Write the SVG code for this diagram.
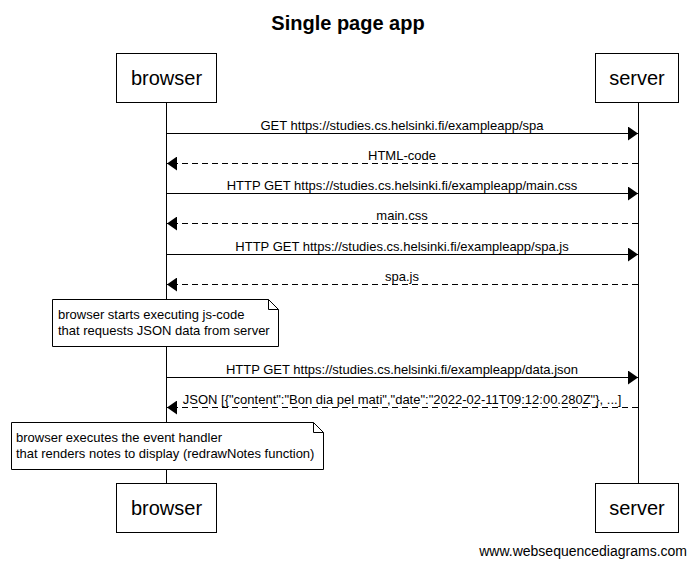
<svg xmlns="http://www.w3.org/2000/svg" width="696" height="566" viewBox="0 0 696 566">
<defs>
<marker id="ah" viewBox="0 0 10 14" refX="10" refY="7" markerWidth="10" markerHeight="14" markerUnits="userSpaceOnUse" orient="auto">
<path d="M0,0 L10,7 L0,14 Z" fill="#000"/>
</marker>
</defs>
<style>
text{font-family:"Liberation Sans",Arial,sans-serif;fill:#000}
.box{fill:#fff;stroke:#000;stroke-width:1}
.pt{font-size:20px;text-anchor:middle}
.life{stroke:#000;stroke-width:1}
.msg{stroke:#000;stroke-width:1;fill:none;marker-end:url(#ah)}
.dash{stroke-dasharray:6,4}
.ml{font-size:13px;text-anchor:middle}
.nt{font-size:13px}
.note{fill:#fff;stroke:#000;stroke-width:1}
</style>
<rect width="696" height="566" fill="#fff"/>
<text x="348" y="30" style="font-size:20px;font-weight:bold" text-anchor="middle">Single page app</text>
<g id="lifelines">
<line class="life" x1="166.5" y1="102" x2="166.5" y2="483"/>
<line class="life" x1="638.5" y1="102" x2="638.5" y2="483"/>
</g>
<g id="browser-top"><rect class="box" x="116.5" y="53.5" width="100" height="49"/><text class="pt" x="166.5" y="85">browser</text></g>
<g id="server-top"><rect class="box" x="595.5" y="53.5" width="83" height="49"/><text class="pt" x="637" y="85">server</text></g>
<g id="browser-bottom"><rect class="box" x="116.5" y="483.5" width="100" height="49"/><text class="pt" x="166.5" y="515">browser</text></g>
<g id="server-bottom"><rect class="box" x="595.5" y="483.5" width="83" height="49"/><text class="pt" x="637" y="515">server</text></g>
<g id="connectors">
<line class="msg" x1="166.5" y1="133.5" x2="638" y2="133.5"/>
<line class="msg dash" x1="638" y1="163.5" x2="167" y2="163.5"/>
<line class="msg" x1="166.5" y1="193.5" x2="638" y2="193.5"/>
<line class="msg dash" x1="638" y1="223.5" x2="167" y2="223.5"/>
<line class="msg" x1="166.5" y1="254.5" x2="638" y2="254.5"/>
<line class="msg dash" x1="638" y1="284.5" x2="167" y2="284.5"/>
<line class="msg" x1="166.5" y1="377.5" x2="638" y2="377.5"/>
<line class="msg dash" x1="638" y1="407.5" x2="167" y2="407.5"/>
</g>
<g id="labels">
<text class="ml" x="402" y="129.5">GET https://studies.cs.helsinki.fi/exampleapp/spa</text>
<text class="ml" x="402" y="159.5">HTML-code</text>
<text class="ml" x="402" y="189.5">HTTP GET https://studies.cs.helsinki.fi/exampleapp/main.css</text>
<text class="ml" x="402" y="219.5">main.css</text>
<text class="ml" x="402" y="250.5">HTTP GET https://studies.cs.helsinki.fi/exampleapp/spa.js</text>
<text class="ml" x="402" y="280.5">spa.js</text>
<text class="ml" x="402" y="373.5">HTTP GET https://studies.cs.helsinki.fi/exampleapp/data.json</text>
<text class="ml" x="402" y="403.5">JSON [{"content":"Bon dia pel mati","date":"2022-02-11T09:12:00.280Z"}, ...]</text>
</g>
<g id="note1">
<path class="note" d="M52.5,299.5 H268.5 L278.5,309.5 V346.5 H52.5 Z"/>
<path d="M268.5,299.5 V309.5 H278.5" fill="none" stroke="#000"/>
<text class="nt" x="58" y="319">browser starts executing js-code</text>
<text class="nt" x="58" y="335">that requests JSON data from server</text>
</g>
<g id="note2">
<path class="note" d="M11.5,422.5 H313.5 L323.5,432.5 V469.5 H11.5 Z"/>
<path d="M313.5,422.5 V432.5 H323.5" fill="none" stroke="#000"/>
<text class="nt" x="16" y="442">browser executes the event handler</text>
<text class="nt" x="16" y="458">that renders notes to display (redrawNotes function)</text>
</g>
<text x="687" y="556" style="font-size:14px" text-anchor="end">www.websequencediagrams.com</text>
</svg>
